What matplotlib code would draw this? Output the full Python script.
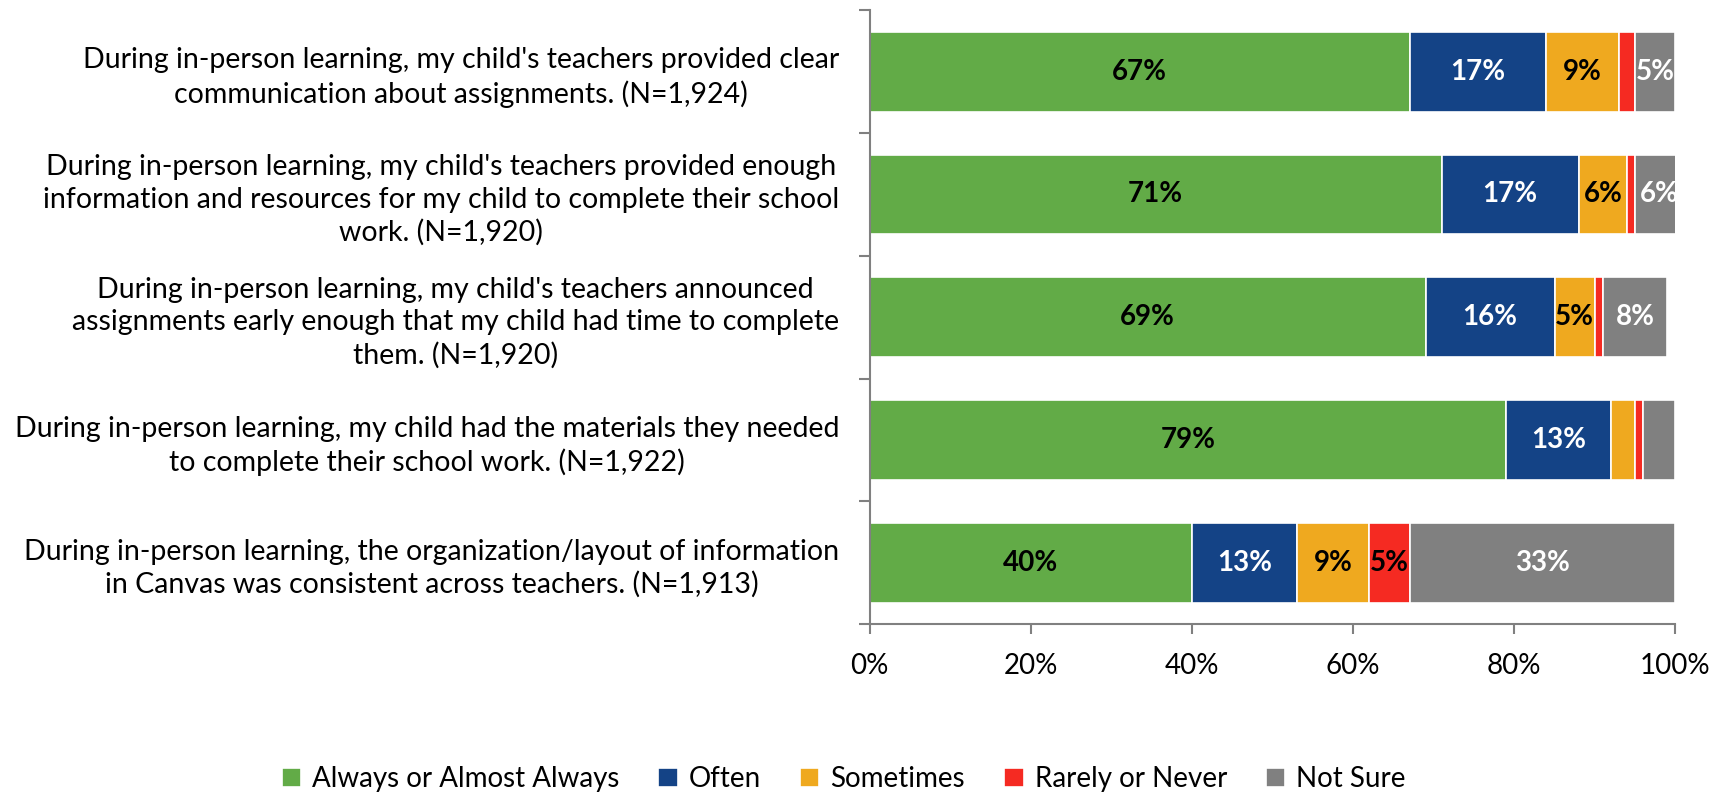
import matplotlib.pyplot as plt
import numpy as np

plt.rcParams['font.family'] = ['Lato', 'DejaVu Sans']

# questions, top to bottom
questions = [
    "During in-person learning, my child's teachers provided clear\ncommunication about assignments. (N=1,924)",
    "During in-person learning, my child's teachers provided enough\ninformation and resources for my child to complete their school\nwork. (N=1,920)",
    "During in-person learning, my child's teachers announced\nassignments early enough that my child had time to complete\nthem. (N=1,920)",
    "During in-person learning, my child had the materials they needed\nto complete their school work. (N=1,922)",
    "During in-person learning, the organization/layout of information\nin Canvas was consistent across teachers. (N=1,913)",
]
series = ["Always or Almost Always", "Often", "Sometimes", "Rarely or Never", "Not Sure"]
always = [67, 71, 69, 79, 40]
often = [17, 17, 16, 13, 13]
sometimes = [9, 6, 5, 3, 9]
rarely = [2, 1, 1, 1, 5]
not_sure = [5, 6, 8, 4, 33]

colors = ["#62ab47", "#144386", "#efa91f", "#f52a22", "#808080"]
text_colors = ["black", "white", "black", "black", "white"]

fig = plt.figure(figsize=(17.29, 7.92), dpi=100)
ax = fig.add_axes([0.503, 0.212, 0.466, 0.775])

y = np.arange(len(questions))
left = np.zeros(len(questions))
for vals, name, c, tc in zip([always, often, sometimes, rarely, not_sure], series, colors, text_colors):
    vals = np.array(vals, dtype=float)
    ax.barh(y, vals, left=left, height=0.65, color=c, edgecolor="white", linewidth=1.2, label=name)
    for yi, l, v in zip(y, left, vals):
        if v >= 5:
            ax.text(l + v / 2, yi, f"{int(v)}%", ha="center", va="center",
                    color=tc, fontsize=20, fontweight="bold")
    left += vals

ax.set_xlim(0, 100)
ax.set_ylim(len(questions) - 0.5, -0.5)
ax.set_xticks(np.arange(0, 101, 20))
ax.set_xticklabels([f"{v}%" for v in range(0, 101, 20)], fontsize=20)
ax.set_yticks(y)
ax.set_yticklabels(questions, fontsize=20.5, multialignment="center", linespacing=1.3)
ax.set_yticks(np.arange(-0.5, len(questions), 1), minor=True)
ax.tick_params(axis="y", which="major", length=0, pad=22)
ax.tick_params(axis="y", which="minor", length=8, color="#808080", width=1.5)
ax.tick_params(axis="x", length=7, color="#808080", width=1.5, pad=14)
for s in ["top", "right"]:
    ax.spines[s].set_visible(False)
for s in ["left", "bottom"]:
    ax.spines[s].set_color("#808080")
    ax.spines[s].set_linewidth(1.5)

fig.legend(loc="center", bbox_to_anchor=(0.488, 0.016), ncol=5, frameon=False,
           fontsize=20, handlelength=0.7, handleheight=0.7, handletextpad=0.4,
           columnspacing=1.4)

fig.savefig("out.png", dpi=100)
